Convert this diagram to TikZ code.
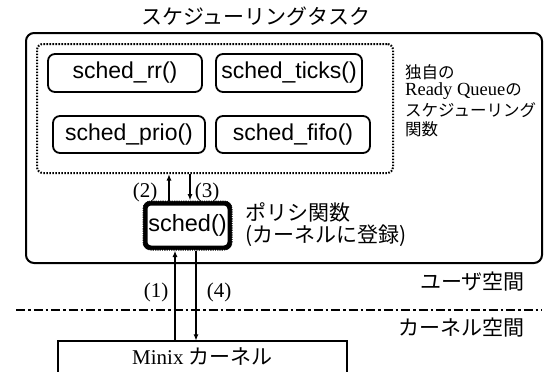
\documentclass[tikz,border=0pt]{standalone}
\usepackage{fontspec}
\setmainfont{Liberation Serif}
\newfontfamily\jp{Noto Sans CJK JP}
\newfontfamily\hv{Liberation Sans}
\usetikzlibrary{arrows.meta}
\begin{document}
\begin{tikzpicture}[x=1pt,y=-1pt,
  fbox/.style={draw, rounded corners=7pt, line width=1.8pt, inner sep=0pt,
    font=\hv\fontsize{23}{26}\selectfont},
  jptext/.style={inner sep=0pt, font=\jp\fontsize{21}{24}\selectfont},
  sidetext/.style={inner sep=0pt, anchor=west, font=\jp\fontsize{16.5}{19}\selectfont},
  numlbl/.style={inner sep=0pt, font=\fontsize{21}{22}\selectfont},
  arr/.style={line width=1.5pt, -{Latex[length=6.5pt,width=5pt]}}]
\useasboundingbox (0,0) rectangle (550,372);
% title
\node[jptext] (title) at (256,16) {スケジューリングタスク};
% outer task box
\node[draw, rounded corners=8pt, line width=2pt, minimum width=516pt, minimum height=230pt] (task) at (284,148) {};
% dotted pool
\node[draw, rounded corners=6pt, line width=2pt, dash pattern=on 1.6pt off 1.4pt,
  minimum width=356pt, minimum height=129pt] (pool) at (215,108.5) {};
% function boxes
\node[fbox, minimum width=154pt, minimum height=38pt] (rr) at (125,73) {sched\_rr()};
\node[fbox, minimum width=146pt, minimum height=38pt] (ticks) at (289,73) {sched\_ticks()};
\node[fbox, minimum width=152pt, minimum height=37pt] (prio) at (129,134.5) {sched\_prio()};
\node[fbox, minimum width=154pt, minimum height=37pt] (fifo) at (293,134.5) {sched\_fifo()};
% side text
\node[sidetext] (s1) at (405,72) {独自の};
\node[sidetext] (s2) at (405,91) {{\rmfamily\fontsize{18.5}{19}\selectfont Ready Queue}の};
\node[sidetext] (s3) at (405,110) {スケジューリング};
\node[sidetext] (s4) at (405,129) {関数};
% sched box
\node[draw, rounded corners=6pt, line width=5pt, minimum width=85pt, minimum height=45pt, inner sep=0pt,
  font=\hv\fontsize{23.5}{26}\selectfont] (sched) at (187.5,225.5) {sched()};
\draw[white, line width=1.3pt, dash pattern=on 1pt off 1.3pt, rounded corners=6pt]
  (sched.north west) rectangle (sched.south east);
\node[inner sep=0pt, anchor=west, align=left, font=\jp\fontsize{21}{22}\selectfont] (pol) at (245,225)
  {ポリシ関数\\(カーネルに登録)};
% kernel box
\node[minimum width=289pt, minimum height=31pt, inner sep=0pt] (minix) at (202.5,356.5)
  {\fontsize{21}{22}\selectfont Minix {\jp\fontsize{21}{24}\selectfont カーネル}};
\draw[line width=1.6pt] (minix.south west) -- (minix.north west) -- (minix.north east) -- (minix.south east);
% arrows
\draw[arr] ([xshift=-18.5pt]sched.north) -- ([xshift=-18.5pt]sched.north |- pool.south);
\draw[arr] ([xshift=2.5pt]sched.north |- pool.south) -- ([xshift=2.5pt]sched.north);
\draw[arr] ([xshift=-12.5pt]sched.south |- minix.north) -- ([xshift=-12.5pt]sched.south);
\draw[arr] ([xshift=8.5pt]sched.south) -- ([xshift=8.5pt]sched.south |- minix.north);
\node[numlbl] (l2) at (145,192) {(2)};
\node[numlbl] (l3) at (207,192) {(3)};
\node[numlbl] (l1) at (156,292) {(1)};
\node[numlbl] (l4) at (219,292) {(4)};
% space divider
\coordinate (dl) at (16,310);
\coordinate (dr) at (542,310);
\draw[line width=1.6pt, dash pattern=on 9pt off 3pt on 2.5pt off 3pt] (dl) -- (dr);
\node[jptext, anchor=east] (user) at (525,282) {ユーザ空間};
\node[jptext, anchor=east] (kern) at (525,328) {カーネル空間};
\end{tikzpicture}
\end{document}
